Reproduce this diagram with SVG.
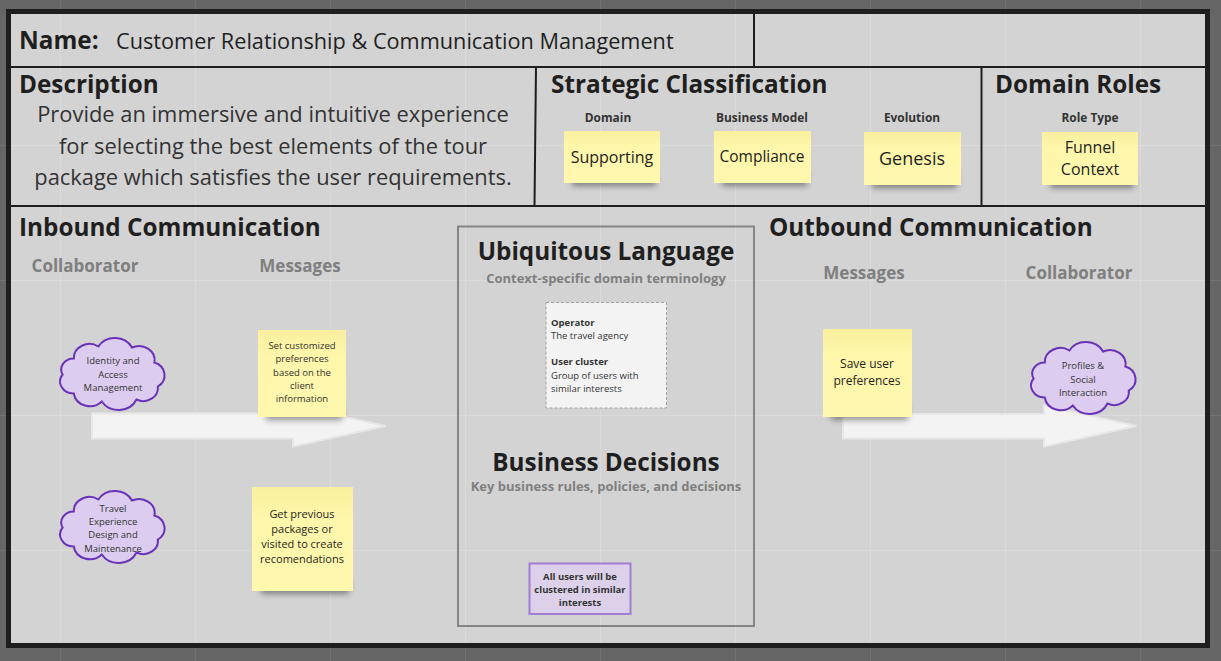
<svg xmlns="http://www.w3.org/2000/svg" xmlns:xlink="http://www.w3.org/1999/xlink" width="1221" height="661" viewBox="0 0 1221 661">
  <style>
    text { font-family: "Open Sans", "Noto Sans", "Liberation Sans", sans-serif; fill: #1f1f1f; }
    .h { font-size: 24.3px; font-weight: 700; }
    .body { font-size: 21.9px; fill: #333; }
    .sub { font-size: 11.9px; font-weight: 700; fill: #333; text-anchor: middle; }
    .col { font-size: 17px; font-weight: 700; fill: #7f7f7f; text-anchor: middle; }
    .tag { font-size: 13px; font-weight: 700; fill: #7f7f7f; text-anchor: middle; }
    .note { fill: url(#stickyFill); }
    .shd { fill: #000; opacity: 0.4; filter: url(#soft); }
    .c { text-anchor: middle; }
    .small { font-size: 9.5px; fill: #333; }
    .divider { stroke: #1e1e1e; stroke-width: 2; }
    .grid line { stroke-width: 1; }
    .arrow { fill: #f3f3f3; stroke: #e7e7e7; stroke-width: 2; stroke-linejoin: miter; }
    .cloud { fill: #dccdf0; stroke: #6a32b8; stroke-width: 2; }
  </style>
  <defs>
    <linearGradient id="stickyFill" x1="0" y1="0" x2="0" y2="1">
      <stop offset="0" stop-color="#f9ef9e"/>
      <stop offset="0.3" stop-color="#fef6aa"/>
      <stop offset="1" stop-color="#fef7ae"/>
    </linearGradient>
    <filter id="soft" x="-30%" y="-80%" width="160%" height="260%">
      <feGaussianBlur stdDeviation="3"/>
    </filter>
    <clipPath id="panelClip">
      <rect x="11" y="14" width="1194" height="629"/>
    </clipPath>
    <path id="cloud" class="cloud" d="M22.4,22 A15.7,14 0 0 1 47,10 A19,17 0 0 1 80.6,11 A15.7,14 0 0 1 103,26 A15.1,13.5 0 0 1 106.4,50 A14.6,13 0 0 1 85.1,63 A19.6,17.5 0 0 1 50.4,65 A16.2,14.5 0 0 1 22.4,57 A13.4,12 0 0 1 11.2,38 A12.3,11 0 0 1 22.4,22 Z"/>
  </defs>

  <!-- canvas background and grid -->
  <rect x="0" y="0" width="1221" height="661" fill="#666666"/>
  <g class="grid" stroke="#717171">
    <line x1="60.5" y1="0" x2="60.5" y2="661"/>
    <line x1="195.5" y1="0" x2="195.5" y2="661"/>
    <line x1="330.5" y1="0" x2="330.5" y2="661"/>
    <line x1="465.5" y1="0" x2="465.5" y2="661"/>
    <line x1="600.5" y1="0" x2="600.5" y2="661"/>
    <line x1="735.5" y1="0" x2="735.5" y2="661"/>
    <line x1="870.5" y1="0" x2="870.5" y2="661"/>
    <line x1="1005.5" y1="0" x2="1005.5" y2="661"/>
    <line x1="1140.5" y1="0" x2="1140.5" y2="661"/>
    <line x1="0" y1="145.5" x2="1221" y2="145.5"/>
    <line x1="0" y1="280.5" x2="1221" y2="280.5"/>
    <line x1="0" y1="415.5" x2="1221" y2="415.5"/>
    <line x1="0" y1="550.5" x2="1221" y2="550.5"/>
  </g>

  <!-- main canvas panel -->
  <rect x="8.5" y="11.5" width="1199" height="634" fill="#d3d3d3"/>
  <g class="grid" stroke="#dbdbdb" clip-path="url(#panelClip)">
    <line x1="60.5" y1="0" x2="60.5" y2="661"/>
    <line x1="195.5" y1="0" x2="195.5" y2="661"/>
    <line x1="330.5" y1="0" x2="330.5" y2="661"/>
    <line x1="465.5" y1="0" x2="465.5" y2="661"/>
    <line x1="600.5" y1="0" x2="600.5" y2="661"/>
    <line x1="735.5" y1="0" x2="735.5" y2="661"/>
    <line x1="870.5" y1="0" x2="870.5" y2="661"/>
    <line x1="1005.5" y1="0" x2="1005.5" y2="661"/>
    <line x1="1140.5" y1="0" x2="1140.5" y2="661"/>
    <line x1="0" y1="145.5" x2="1221" y2="145.5"/>
    <line x1="0" y1="280.5" x2="1221" y2="280.5"/>
    <line x1="0" y1="415.5" x2="1221" y2="415.5"/>
    <line x1="0" y1="550.5" x2="1221" y2="550.5"/>
  </g>
  <rect x="8.5" y="11.5" width="1199" height="634" fill="none" stroke="#1e1e1e" stroke-width="5"/>

  <!-- section dividers -->
  <g id="dividers">
    <line class="divider" x1="10" y1="67" x2="1206" y2="67"/>
    <line class="divider" x1="10" y1="206" x2="1206" y2="206"/>
    <line class="divider" x1="754" y1="12" x2="754" y2="67"/>
    <line class="divider" x1="536" y1="67" x2="534.5" y2="206"/>
    <line class="divider" x1="981.5" y1="67" x2="981.5" y2="206"/>
  </g>

  <!-- name row -->
  <g id="name">
    <text class="h" x="19" y="49">Name:</text>
    <text x="116" y="49" font-size="21.7" fill="#2b2b2b">Customer Relationship &amp; Communication Management</text>
  </g>

  <!-- description -->
  <g id="description">
    <text class="h" x="19" y="93">Description</text>
    <text class="body c" x="273" y="122">Provide an immersive and intuitive experience</text>
    <text class="body c" x="273" y="154">for selecting the best elements of the tour</text>
    <text class="body c" x="273" y="185">package which satisfies the user requirements.</text>
  </g>

  <!-- strategic classification -->
  <g id="strategic-classification">
    <text class="h" x="551" y="93">Strategic Classification</text>
    <text class="sub" x="608" y="122">Domain</text>
    <text class="sub" x="762" y="122">Business Model</text>
    <text class="sub" x="912" y="122">Evolution</text>
  </g>
  <g id="domain-supporting">
    <rect class="shd" x="572" y="172" width="84" height="14"/>
    <rect class="note" x="564" y="131" width="96" height="52"/>
    <text class="c" x="612" y="163" font-size="16" fill="#333">Supporting</text>
  </g>
  <g id="business-compliance">
    <rect class="shd" x="722" y="172" width="85" height="14"/>
    <rect class="note" x="714" y="131" width="97" height="52"/>
    <text class="c" x="762" y="162" font-size="15.5" fill="#333">Compliance</text>
  </g>
  <g id="evolution-genesis">
    <rect class="shd" x="872" y="174" width="85" height="14"/>
    <rect class="note" x="864" y="132" width="97" height="53"/>
    <text class="c" x="912" y="165" font-size="18" fill="#333">Genesis</text>
  </g>

  <!-- domain roles -->
  <g id="domain-roles">
    <text class="h" x="995" y="93">Domain Roles</text>
    <text class="sub" x="1090" y="122">Role Type</text>
  </g>
  <g id="role-funnel">
    <rect class="shd" x="1050" y="174" width="84" height="14"/>
    <rect class="note" x="1042" y="132" width="96" height="53"/>
    <text class="c" x="1090" y="153" font-size="16" fill="#333">Funnel</text>
    <text class="c" x="1090" y="175" font-size="16" fill="#333">Context</text>
  </g>

  <!-- inbound / outbound headings -->
  <g id="inbound-communication">
    <text class="h" x="19" y="236">Inbound Communication</text>
    <text class="col" x="85" y="272">Collaborator</text>
    <text class="col" x="300" y="272">Messages</text>
  </g>
  <g id="outbound-communication">
    <text class="h" x="769" y="236">Outbound Communication</text>
    <text class="col" x="864" y="279">Messages</text>
    <text class="col" x="1079" y="279">Collaborator</text>
  </g>

  <!-- flow arrows -->
  <g id="connectors">
    <polygon class="arrow" points="92,413.5 293,413.5 293,405.5 385.5,426 293,446.5 293,438.5 92,438.5"/>
    <polygon class="arrow" points="843,414 1044,414 1044,405.5 1136.5,426 1044,446.5 1044,438.5 843,438.5"/>
  </g>

  <!-- inbound collaborators -->
  <g id="identity-access-management">
    <use xlink:href="#cloud" href="#cloud" x="51.4" y="336.5"/>
    <text class="small c" x="113" y="364">Identity and</text>
    <text class="small c" x="113" y="377.5">Access</text>
    <text class="small c" x="113" y="391">Management</text>
  </g>
  <g id="travel-experience-design">
    <use xlink:href="#cloud" href="#cloud" x="51.4" y="489.5"/>
    <text class="small c" x="113" y="512">Travel</text>
    <text class="small c" x="113" y="525">Experience</text>
    <text class="small c" x="113" y="538">Design and</text>
    <text class="small c" x="113" y="551.5">Maintenance</text>
  </g>

  <!-- inbound messages -->
  <g id="msg-set-preferences">
    <rect class="shd" x="266" y="406" width="76" height="14"/>
    <rect class="note" x="258" y="330" width="88" height="87"/>
    <text class="small c" x="302" y="349">Set customized</text>
    <text class="small c" x="302" y="362">preferences</text>
    <text class="small c" x="302" y="375.5">based on the</text>
    <text class="small c" x="302" y="389">client</text>
    <text class="small c" x="302" y="402">information</text>
  </g>
  <g id="msg-previous-packages">
    <rect class="shd" x="261" y="580" width="88" height="14"/>
    <rect class="note" x="252" y="487" width="101" height="104"/>
    <text class="c" x="302" y="518" font-size="11" fill="#333">Get previous</text>
    <text class="c" x="302" y="533" font-size="11" fill="#333">packages or</text>
    <text class="c" x="302" y="548" font-size="11" fill="#333">visited to create</text>
    <text class="c" x="302" y="563" font-size="11" fill="#333">recomendations</text>
  </g>

  <!-- ubiquitous language and business decisions -->
  <g id="bounded-context-core">
    <rect x="458" y="226.5" width="296" height="399.5" fill="none" stroke="#858585" stroke-width="2"/>
    <text class="h c" x="606" y="260" font-size="24.6">Ubiquitous Language</text>
    <text class="tag" x="606" y="283">Context-specific domain terminology</text>
    <text class="h c" x="606" y="471">Business Decisions</text>
    <text class="tag" x="606" y="491">Key business rules, policies, and decisions</text>
  </g>
  <g id="glossary">
    <rect x="546" y="302.5" width="120.5" height="105.5" fill="#f3f3f3" stroke="#a3a3a3" stroke-width="1" stroke-dasharray="3 2"/>
    <text class="small" x="551" y="326" font-weight="700">Operator</text>
    <text class="small" x="551" y="339">The travel agency</text>
    <text class="small" x="551" y="365" font-weight="700">User cluster</text>
    <text class="small" x="551" y="378.5">Group of users with</text>
    <text class="small" x="551" y="391.5">similar interests</text>
  </g>
  <g id="decision-clustering">
    <rect x="529.5" y="563.5" width="101" height="50.5" fill="#ddd1ea" stroke="#a07fd2" stroke-width="2"/>
    <text class="small c" x="580" y="579.5" font-weight="700">All users will be</text>
    <text class="small c" x="580" y="592.5" font-weight="700">clustered in similar</text>
    <text class="small c" x="580" y="606" font-weight="700">interests</text>
  </g>

  <!-- outbound messages -->
  <g id="msg-save-preferences">
    <rect class="shd" x="831" y="406" width="77" height="14"/>
    <rect class="note" x="823" y="329" width="89" height="88"/>
    <text class="c" x="867" y="368" font-size="12" fill="#333">Save user</text>
    <text class="c" x="867" y="385" font-size="12" fill="#333">preferences</text>
  </g>

  <!-- outbound collaborator -->
  <g id="profiles-social-interaction">
    <use xlink:href="#cloud" href="#cloud" x="1022.4" y="340.5"/>
    <text class="small c" x="1083" y="369">Profiles &amp;</text>
    <text class="small c" x="1083" y="382.5">Social</text>
    <text class="small c" x="1083" y="396">Interaction</text>
  </g>
</svg>
